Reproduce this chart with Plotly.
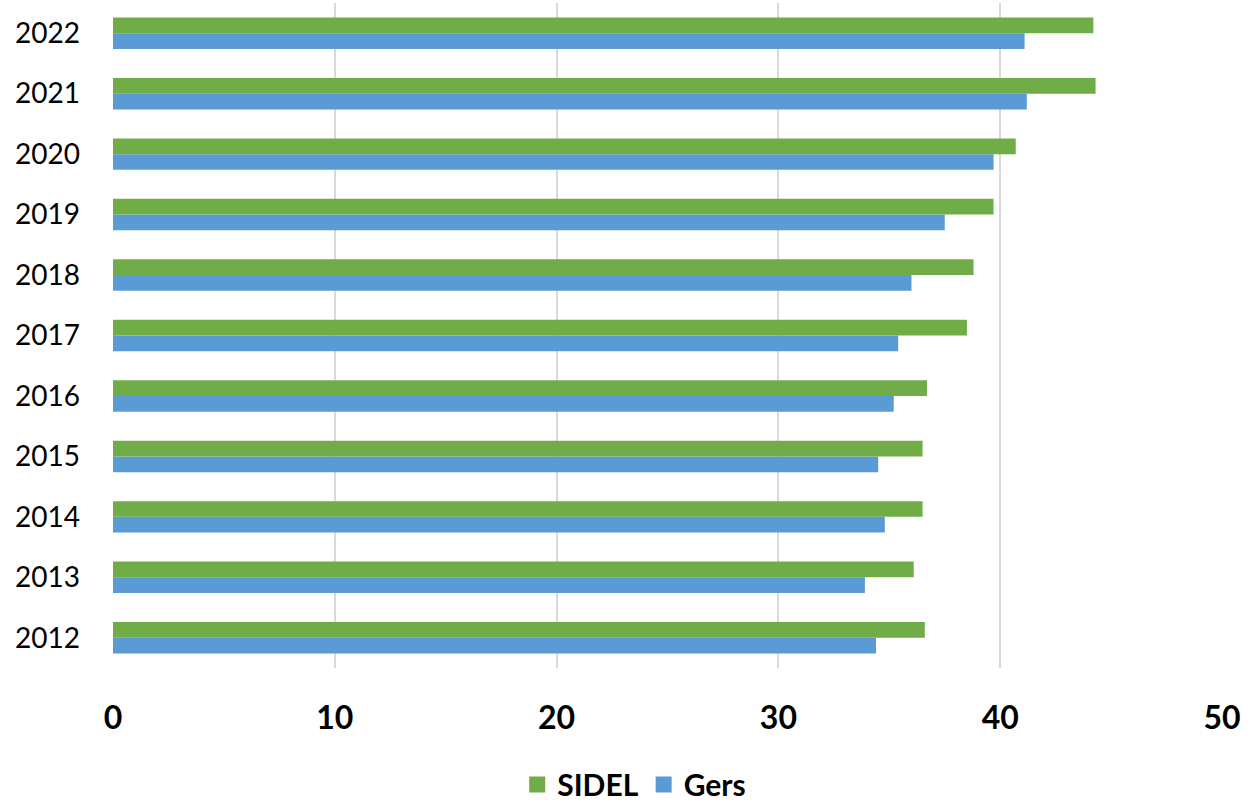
import plotly.graph_objects as go

years = ["2012", "2013", "2014", "2015", "2016", "2017", "2018", "2019", "2020", "2021", "2022"]
sidel = [36.6, 36.1, 36.5, 36.5, 36.7, 38.5, 38.8, 39.7, 40.7, 44.3, 44.2]
gers = [34.4, 33.9, 34.8, 34.5, 35.2, 35.4, 36.0, 37.5, 39.7, 41.2, 41.1]
x_ticks = [0, 10, 20, 30, 40, 50]

GREEN = "#70AD47"
BLUE = "#5B9BD5"
FONT = "Lato"

fig = go.Figure()
fig.add_trace(go.Bar(y=years, x=gers, orientation="h", name="Gers",
                     marker=dict(color=BLUE, line=dict(width=0)), showlegend=False))
fig.add_trace(go.Bar(y=years, x=sidel, orientation="h", name="SIDEL",
                     marker=dict(color=GREEN, line=dict(width=0)), showlegend=False))
# legend entries
fig.add_trace(go.Scatter(x=[None], y=[None], mode="markers", name="SIDEL",
                         marker=dict(symbol="square", size=20, color=GREEN)))
fig.add_trace(go.Scatter(x=[None], y=[None], mode="markers", name="Gers",
                         marker=dict(symbol="square", size=20, color=BLUE)))

fig.update_layout(
    width=1254, height=802,
    margin=dict(l=113, r=32, t=3, b=134, autoexpand=False),
    paper_bgcolor="white", plot_bgcolor="white",
    barmode="group", bargap=0.48, bargroupgap=0,
    font=dict(family=FONT, color="#000000"),
    legend=dict(orientation="h", x=0.47, xanchor="center", y=-0.136, yanchor="top",
                font=dict(size=30, weight="bold", family=FONT), itemsizing="trace",
                itemwidth=30, tracegroupgap=0),
    xaxis=dict(range=[0, 50], tickvals=x_ticks, showgrid=True, gridcolor="#D9D9D9",
               gridwidth=2, zeroline=False, showline=False, ticks="", automargin=False,
               tickfont=dict(size=32, weight="bold", family=FONT), ticklabelstandoff=28),
    yaxis=dict(type="category", categoryorder="array", categoryarray=years,
               showgrid=False, zeroline=False, showline=False, ticks="", automargin=False,
               tickfont=dict(size=28, family=FONT), ticklabelstandoff=32),
)

fig.write_html("out.html", config={"displayModeBar": False},
               post_script="document.body.style.margin='0';")
